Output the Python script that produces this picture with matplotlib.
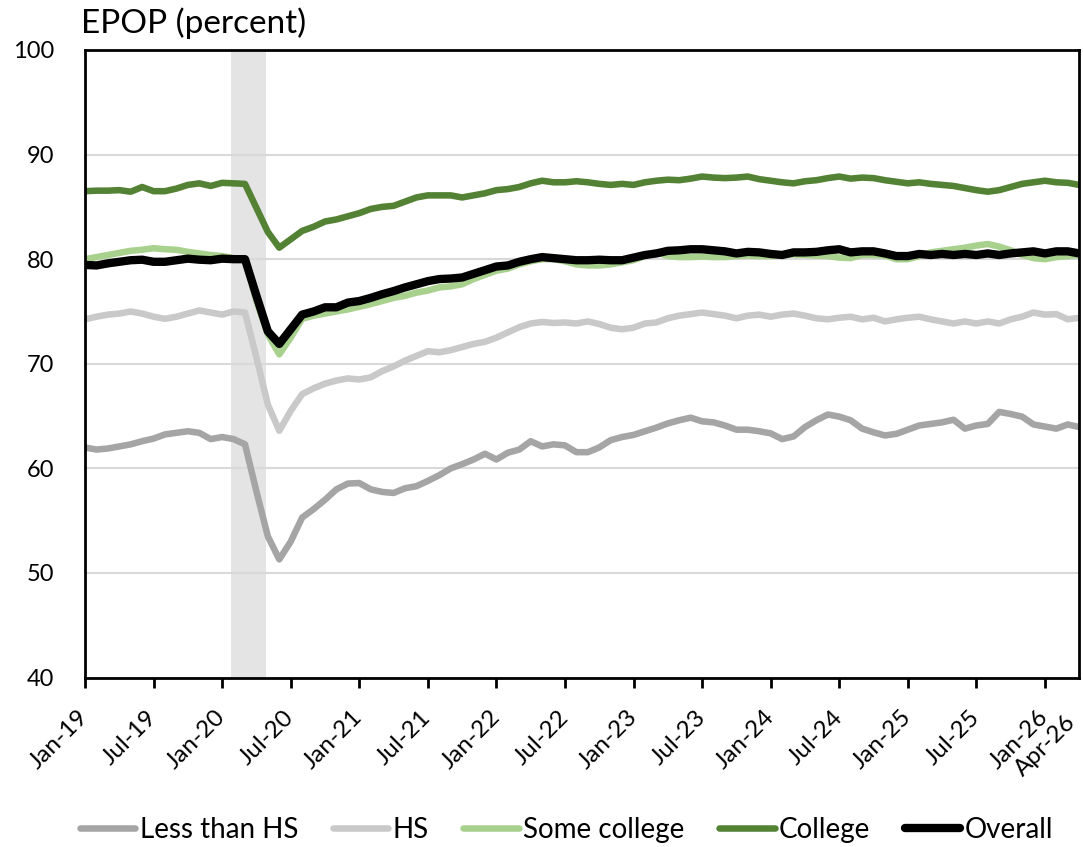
import numpy as np
import pandas as pd
import matplotlib
matplotlib.use("Agg")
import matplotlib.pyplot as plt

plt.rcParams['font.family'] = ['Lato', 'DejaVu Sans']

# monthly EPOP, Jan 2019 .. Apr 2026
months = pd.date_range('2019-01-01', '2026-04-01', freq='MS')

less_hs = [62.0, 61.8, 61.9, 62.1, 62.3, 62.6, 62.85, 63.25, 63.4, 63.55, 63.4, 62.8, 63.0, 62.8, 62.3,
           57.8, 53.5, 51.3, 53.0, 55.3, 56.1, 57.0, 58.0, 58.55, 58.6, 58.0, 57.75, 57.65, 58.1, 58.3,
           58.8, 59.35, 60.0, 60.4, 60.85, 61.4, 60.85, 61.5, 61.8, 62.6, 62.1, 62.3,
           62.2, 61.55, 61.55, 62.0, 62.7, 63.0, 63.2, 63.55, 63.9, 64.3,
           64.6, 64.85, 64.5, 64.4, 64.1, 63.7, 63.7, 63.55, 63.35, 62.8,
           63.05, 63.95, 64.6, 65.15, 64.95, 64.6, 63.8, 63.45, 63.15, 63.3,
           63.7, 64.1, 64.25, 64.4, 64.65, 63.8, 64.1, 64.25, 65.4, 65.2,
           64.95, 64.2, 64.0, 63.8, 64.2, 63.95]

hs = [74.25, 74.5, 74.7, 74.8, 75.0, 74.8, 74.5, 74.3, 74.5, 74.8, 75.1, 74.9, 74.7, 75.0, 74.9,
      70.6, 66.1, 63.6, 65.5, 67.1, 67.65, 68.1, 68.4, 68.6, 68.5, 68.7, 69.3, 69.75, 70.3, 70.75,
      71.2, 71.1, 71.3, 71.6, 71.9, 72.1, 72.5, 73.0, 73.5, 73.85, 74.0, 73.9,
      73.95, 73.85, 74.05, 73.8, 73.45, 73.3, 73.45, 73.85, 73.95, 74.35,
      74.6, 74.75, 74.9, 74.75, 74.6, 74.35, 74.6, 74.7, 74.5, 74.7,
      74.8, 74.6, 74.35, 74.25, 74.4, 74.5, 74.25, 74.4, 74.05, 74.25,
      74.4, 74.5, 74.25, 74.05, 73.85, 74.05, 73.85, 74.05, 73.85, 74.25,
      74.5, 74.9, 74.7, 74.75, 74.25, 74.4]

some_college = [80.0, 80.2, 80.4, 80.6, 80.8, 80.9, 81.05, 80.95, 80.9, 80.7, 80.55, 80.4, 80.3, 80.1, 80.0,
                76.0, 72.8, 70.9, 72.5, 74.3, 74.6, 74.8, 75.0, 75.2, 75.45, 75.7, 76.0, 76.3, 76.5, 76.8,
                77.0, 77.3, 77.4, 77.6, 78.1, 78.5, 78.9, 79.1, 79.5, 79.8, 80.0, 80.0,
                79.8, 79.5, 79.4, 79.4, 79.5, 79.7, 79.9, 80.3, 80.65, 80.3,
                80.2, 80.2, 80.25, 80.2, 80.2, 80.3, 80.35, 80.3, 80.3, 80.4,
                80.45, 80.4, 80.35, 80.3, 80.15, 80.1, 80.4, 80.4, 80.35, 80.0,
                80.0, 80.3, 80.65, 80.8, 80.95, 81.1, 81.3, 81.45, 81.2, 80.85,
                80.4, 80.1, 80.0, 80.2, 80.3, 80.4]

college = [86.5, 86.55, 86.55, 86.6, 86.45, 86.9, 86.5, 86.5, 86.75, 87.1, 87.25, 87.0, 87.3, 87.25, 87.2,
           84.9, 82.6, 81.1, 81.9, 82.7, 83.1, 83.6, 83.8, 84.1, 84.4, 84.8, 85.0, 85.1, 85.5, 85.9,
           86.1, 86.1, 86.1, 85.9, 86.1, 86.3, 86.6, 86.7, 86.9, 87.25, 87.5, 87.35,
           87.35, 87.45, 87.35, 87.2, 87.1, 87.2, 87.1, 87.35, 87.5, 87.6,
           87.55, 87.7, 87.9, 87.8, 87.75, 87.8, 87.9, 87.65, 87.5, 87.35,
           87.25, 87.45, 87.55, 87.75, 87.9, 87.7, 87.8, 87.75, 87.55, 87.4,
           87.25, 87.35, 87.2, 87.1, 87.0, 86.8, 86.6, 86.45, 86.6, 86.9,
           87.2, 87.35, 87.5, 87.35, 87.3, 87.1]

overall = [79.45, 79.4, 79.6, 79.75, 79.9, 79.95, 79.75, 79.75, 79.9, 80.05, 79.95, 79.9, 80.05, 80.0, 80.0,
           76.5, 73.1, 71.9, 73.3, 74.7, 75.0, 75.4, 75.4, 75.85, 76.0, 76.3, 76.65, 76.95, 77.3, 77.6,
           77.9, 78.1, 78.15, 78.25, 78.6, 78.95, 79.3, 79.4, 79.75, 80.0, 80.2, 80.1,
           80.0, 79.9, 79.9, 79.95, 79.9, 79.9, 80.15, 80.4, 80.55, 80.8,
           80.85, 80.95, 80.95, 80.85, 80.75, 80.55, 80.7, 80.65, 80.5, 80.4,
           80.65, 80.65, 80.7, 80.85, 80.95, 80.65, 80.75, 80.75, 80.55, 80.3,
           80.3, 80.5, 80.4, 80.5, 80.4, 80.5, 80.4, 80.55, 80.4, 80.55,
           80.65, 80.75, 80.55, 80.75, 80.75, 80.55]

# recession shading (Feb 2020 - May 2020)
recession = ('2020-02-01', '2020-05-01')

x = np.arange(len(months))
rec_start = months.get_loc(pd.Timestamp(recession[0]))
rec_end = months.get_loc(pd.Timestamp(recession[1]))

fig = plt.figure(figsize=(10.83, 8.47), dpi=100)
ax = fig.add_axes([0.0785, 0.2, 0.918, 0.741])

ax.axvspan(rec_start - 0.2, rec_end - 0.2, color='#e4e4e4', lw=0, zorder=0)

ax.plot(x, less_hs, color='#a5a5a5', lw=4.7, label='Less than HS', solid_capstyle='round')
ax.plot(x, hs, color='#c9c9c9', lw=4.7, label='HS', solid_capstyle='round')
ax.plot(x, some_college, color='#a9d18e', lw=4.7, label='Some college', solid_capstyle='round')
ax.plot(x, college, color='#548235', lw=4.7, label='College', solid_capstyle='round')
ax.plot(x, overall, color='black', lw=6.0, label='Overall', solid_capstyle='round')

ax.set_ylim(40, 100)
ax.set_yticks(range(40, 101, 10))
ax.set_xlim(0, len(months) - 1)
ax.grid(axis='y', color='#d9d9d9', lw=1.5, zorder=0)
ax.set_axisbelow(True)

# ticks every six months; the last month gets its own label
tick_pos = [i for i, d in enumerate(months) if d.month in (1, 7)]
tick_labels = [months[i].strftime('%b-%y') for i in tick_pos]
ax.set_xticks(tick_pos)
ax.set_xticklabels(tick_labels, rotation=45, ha='right', va='center', rotation_mode='anchor')
ax.annotate(months[-1].strftime('%b-%y'), xy=(len(months) - 1, 0),
            xycoords=('data', 'axes fraction'), xytext=(-5, -30), textcoords='offset points',
            rotation=45, ha='right', va='center', rotation_mode='anchor', fontsize=17.5)

ax.tick_params(axis='x', length=7, width=2, direction='out', labelsize=17.5, pad=19)
ax.tick_params(axis='y', length=0, labelsize=17, pad=22)
for s in ax.spines.values():
    s.set_linewidth(2)

fig.text(0.075, 0.961, 'EPOP (percent)', fontsize=24, ha='left', va='baseline')

fig.legend(loc='center', bbox_to_anchor=(0.523, 0.02), ncol=5, frameon=False, fontsize=20,
           handlelength=2.0, handletextpad=0.15, columnspacing=1.25)

fig.savefig('out.png', dpi=100)
